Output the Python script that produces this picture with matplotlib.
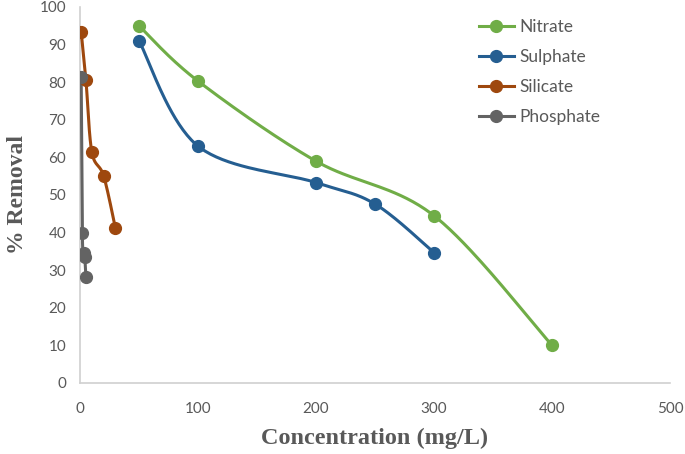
import numpy as np
import matplotlib.pyplot as plt

# data
nitrate_x = [50, 100, 200, 300, 400]
nitrate_y = [95.0, 80.3, 59.0, 44.5, 10.0]
sulphate_x = [50, 100, 200, 250, 300]
sulphate_y = [91.0, 63.0, 53.3, 47.6, 34.7]
silicate_x = [1, 5, 10, 20, 30]
silicate_y = [93.4, 80.7, 61.5, 55.1, 41.2]
phosphate_x = [1, 2, 3, 4, 5]
phosphate_y = [81.3, 39.8, 34.5, 33.5, 28.3]

xticks = [0, 100, 200, 300, 400, 500]
yticks = [0, 10, 20, 30, 40, 50, 60, 70, 80, 90, 100]


def smooth(x, y, n=40):
    # excel-like smoothed line (catmull-rom bezier)
    x = np.asarray(x, float)
    y = np.asarray(y, float)
    px = np.concatenate([[x[0]], x, [x[-1]]])
    py = np.concatenate([[y[0]], y, [y[-1]]])
    xs, ys = [], []
    t = np.linspace(0, 1, n)
    for i in range(1, len(px) - 2):
        p0 = np.array([px[i], py[i]])
        p3 = np.array([px[i + 1], py[i + 1]])
        p1 = p0 + (np.array([px[i + 1], py[i + 1]]) - np.array([px[i - 1], py[i - 1]])) / 6
        p2 = p3 - (np.array([px[i + 2], py[i + 2]]) - np.array([px[i], py[i]])) / 6
        b = ((1 - t) ** 3)[:, None] * p0 + (3 * (1 - t) ** 2 * t)[:, None] * p1 \
            + (3 * (1 - t) * t ** 2)[:, None] * p2 + (t ** 3)[:, None] * p3
        xs.extend(b[:, 0])
        ys.extend(b[:, 1])
    return xs, ys


fig = plt.figure(figsize=(6.85, 4.54), dpi=100)
ax = fig.add_axes([80 / 685, 1 - 383 / 454, 590 / 685, 376 / 454])

series = [
    ('Nitrate', nitrate_x, nitrate_y, '#70AD47'),
    ('Sulphate', sulphate_x, sulphate_y, '#255E91'),
    ('Silicate', silicate_x, silicate_y, '#9E480E'),
    ('Phosphate', phosphate_x, phosphate_y, '#636363'),
]
for name, xv, yv, c in series:
    sx, sy = smooth(xv, yv)
    ax.plot(sx, sy, color=c, lw=2.2, zorder=3)
    ax.plot(xv, yv, 'o', color=c, ms=8.5, zorder=4)
    ax.plot([], [], '-o', color=c, lw=2.2, ms=8.5, label=name)

ax.set_xlim(0, 500)
ax.set_ylim(0, 100)
ax.set_xticks(xticks)
ax.set_yticks(yticks)
ax.tick_params(length=0, labelsize=11, labelcolor='#595959', pad=10)
for lab in ax.get_xticklabels() + ax.get_yticklabels():
    lab.set_fontfamily('Lato')
ax.tick_params(axis='x', pad=14)

for s in ['top', 'right']:
    ax.spines[s].set_visible(False)
for s in ['left', 'bottom']:
    ax.spines[s].set_color('#D0D0D0')
    ax.spines[s].set_linewidth(1.2)

ax.set_xlabel('Concentration (mg/L)', fontfamily='Liberation Serif', fontweight='bold',
              fontsize=17.5, color='#595959', labelpad=8)
ax.set_ylabel('% Removal', fontfamily='Liberation Serif', fontweight='bold',
              fontsize=17, color='#595959', labelpad=8)

leg = ax.legend(loc='upper left', bbox_to_anchor=(0.65, 1.009), frameon=False,
                prop={'family': 'Lato', 'size': 12.5}, handlelength=2.0,
                labelspacing=0.8, handletextpad=0.3)
for t in leg.get_texts():
    t.set_color('#595959')

fig.savefig('out.png', dpi=100)
